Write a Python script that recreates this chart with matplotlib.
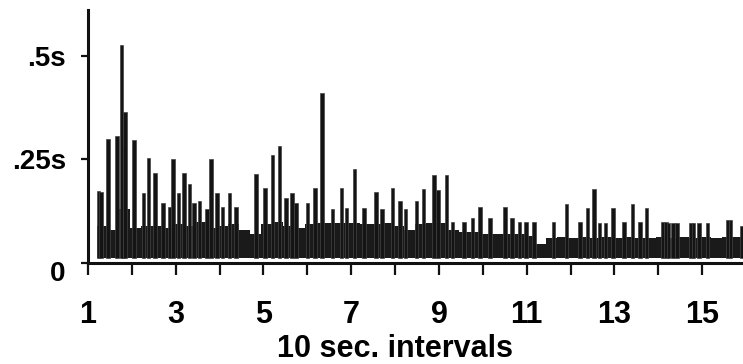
import matplotlib
matplotlib.use('Agg')
import matplotlib.pyplot as plt
import matplotlib.transforms as mtransforms

plt.rcParams['font.family'] = ['Liberation Sans', 'DejaVu Sans']

# dense lower mass: start of each quarter-interval and the top of the mass there
base_t = [1.2 + 0.25 * i for i in range(59)]
base_h = [0.09, 0.08, 0.13, 0.085, 0.09, 0.09, 0.085, 0.095, 0.09, 0.10,
          0.085, 0.09, 0.095, 0.08, 0.07, 0.095, 0.10, 0.09, 0.085, 0.095,
          0.097, 0.097, 0.097, 0.097, 0.095, 0.095, 0.097, 0.09, 0.08, 0.095,
          0.097, 0.097, 0.08, 0.075, 0.075, 0.07, 0.07, 0.07, 0.07, 0.065,
          0.045, 0.06,
          0.062, 0.06, 0.062, 0.06, 0.062, 0.06, 0.062, 0.06, 0.06, 0.062,
          0.06, 0.062, 0.06, 0.062, 0.06, 0.062, 0.062]

# single long responses (spikes)
spike_t = [1.24, 1.30, 1.46, 1.66, 1.80, 1.76, 1.84, 2.05, 2.27, 2.38,
           2.53, 2.71, 2.86, 2.94, 3.06, 3.19, 3.31, 3.42, 3.54, 3.71,
           3.80, 3.94, 4.07, 4.22, 4.37, 4.83, 5.03, 5.21, 5.37, 5.51,
           5.65, 5.74, 6.00, 6.17, 6.33, 6.57, 6.78, 6.89, 7.08, 7.29,
           7.56, 7.70, 7.94, 8.11, 8.24, 8.49, 8.65, 8.89, 8.98, 9.17,
           9.31, 9.57, 9.76, 9.94, 10.16, 10.51, 10.67, 10.83, 10.98, 11.17,
           11.61, 11.91, 12.21, 12.38, 12.53, 12.66, 12.80, 12.97, 13.22, 13.41,
           13.58, 13.73, 14.09, 14.17, 14.23, 14.33, 14.43, 14.74, 14.80, 14.93,
           15.12, 15.58, 15.65, 15.91]
spike_h = [0.174, 0.172, 0.30, 0.307, 0.28, 0.526, 0.365, 0.298, 0.168, 0.253,
           0.217, 0.145, 0.136, 0.251, 0.17, 0.217, 0.19, 0.144, 0.15, 0.13,
           0.252, 0.168, 0.135, 0.168, 0.135, 0.215, 0.18, 0.262, 0.283, 0.156,
           0.168, 0.144, 0.145, 0.18, 0.41, 0.13, 0.18, 0.133, 0.227, 0.133,
           0.171, 0.13, 0.18, 0.15, 0.13, 0.15, 0.179, 0.213, 0.177, 0.213,
           0.10, 0.10, 0.108, 0.135, 0.108, 0.135, 0.108, 0.10, 0.10, 0.10,
           0.10, 0.142, 0.10, 0.134, 0.179, 0.097, 0.097, 0.133, 0.10, 0.142,
           0.099, 0.134, 0.099, 0.099, 0.097, 0.097, 0.097, 0.097, 0.097, 0.097,
           0.097, 0.105, 0.105, 0.09]

floor = 0.012

fig = plt.figure(figsize=(7.43, 3.64), dpi=100)
ax = fig.add_axes([88 / 743, 101 / 364, 655 / 743, 253 / 364])

# base mass as one stepped shape so no seams show between the quarter-intervals
ax.fill_between(base_t + [base_t[-1] + 0.25], base_h + [base_h[-1]], floor,
                step='post', color='#1a1a1a', linewidth=0)
ax.bar(spike_t, [h - floor for h in spike_h], width=0.08, bottom=floor,
       color='#141414', edgecolor='#444444', linewidth=0.5)

ax.set_xlim(1, 15.93)
ax.set_ylim(0, 0.611)

for s in ['top', 'right']:
    ax.spines[s].set_visible(False)
for s in ['left', 'bottom']:
    ax.spines[s].set_linewidth(2.2)
    ax.spines[s].set_color('#111111')

ax.set_xticks(range(1, 16))
ax.set_xticklabels([str(i) if i % 2 else '' for i in range(1, 16)])
ax.tick_params(axis='x', length=8.5, width=1.6, pad=18, labelsize=22, color='#111111')
ax.set_yticks([0, 0.25, 0.5])
ax.set_yticklabels(['0', '.25s', '.5s'])
ax.tick_params(axis='y', length=5, width=1.6, pad=11, labelsize=20, color='#111111')
for lab in ax.get_xticklabels() + ax.get_yticklabels():
    lab.set_fontweight('bold')

# the zero label sits a little below the axis line
zero = ax.get_yticklabels()[0]
zero.set_transform(zero.get_transform() +
                   mtransforms.ScaledTranslation(0, -6 / 72, fig.dpi_scale_trans))

ax.set_xlabel('10 sec. intervals', fontsize=22, fontweight='bold')
ax.xaxis.set_label_coords(8, -0.28, transform=mtransforms.blended_transform_factory(ax.transData, ax.transAxes))

fig.savefig('out.png', dpi=100)
